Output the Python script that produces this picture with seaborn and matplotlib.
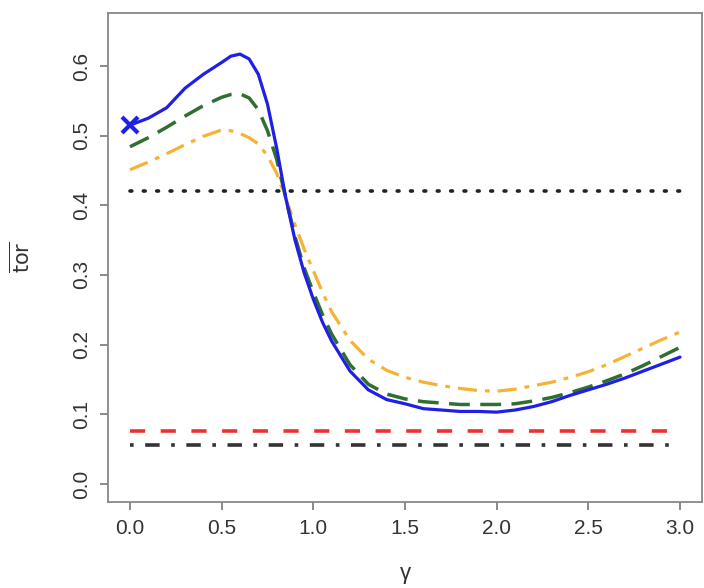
import numpy as np
import pandas as pd
import matplotlib
matplotlib.use("Agg")
import matplotlib.pyplot as plt
import seaborn as sns

# gamma grid and the three mean-tor curves
gamma = [0.0, 0.1, 0.2, 0.3, 0.4, 0.5, 0.55, 0.6, 0.65, 0.7, 0.75, 0.8, 0.85,
         0.9, 0.95, 1.0, 1.05, 1.1, 1.2, 1.3, 1.4, 1.5, 1.6, 1.7, 1.8, 1.9,
         2.0, 2.1, 2.2, 2.3, 2.4, 2.5, 2.6, 2.7, 2.8, 2.9, 3.0]
tor_blue = [0.515, 0.525, 0.540, 0.568, 0.588, 0.605, 0.614, 0.617, 0.610,
            0.588, 0.545, 0.482, 0.410, 0.350, 0.303, 0.265, 0.232, 0.205,
            0.162, 0.135, 0.121, 0.115, 0.108, 0.106, 0.104, 0.104, 0.103,
            0.106, 0.111, 0.118, 0.127, 0.135, 0.143, 0.152, 0.162, 0.172,
            0.182]
tor_green = [0.484, 0.497, 0.512, 0.528, 0.543, 0.555, 0.559, 0.560, 0.554,
             0.537, 0.507, 0.466, 0.410, 0.355, 0.310, 0.275, 0.243, 0.215,
             0.171, 0.143, 0.129, 0.122, 0.118, 0.116, 0.114, 0.114, 0.114,
             0.115, 0.119, 0.124, 0.131, 0.139, 0.148, 0.158, 0.170, 0.183,
             0.196]
tor_orange = [0.451, 0.462, 0.474, 0.487, 0.499, 0.508, 0.507, 0.503, 0.497,
              0.488, 0.471, 0.446, 0.410, 0.372, 0.337, 0.306, 0.275, 0.247,
              0.206, 0.179, 0.163, 0.153, 0.146, 0.141, 0.137, 0.134, 0.133,
              0.136, 0.141, 0.146, 0.153, 0.161, 0.171, 0.183, 0.195, 0.207,
              0.218]

# reference levels
level_dotted = 0.42
level_red = 0.076
level_dashdot = 0.056

df = pd.DataFrame({"gamma": gamma, "blue": tor_blue,
                   "green": tor_green, "orange": tor_orange})

sns.set_style("white")
plt.rcParams["font.family"] = ["Liberation Sans", "DejaVu Sans"]

fig = plt.figure(figsize=(7.04, 5.88), dpi=100)
ax = fig.add_axes([108 / 704, 1 - 502 / 588, (702 - 108) / 704, (502 - 13) / 588])

sns.lineplot(data=df, x="gamma", y="orange", ax=ax, color="#f5b335",
             linewidth=2.3, dashes=False)
ax.lines[-1].set_dashes([6, 2.5, 1.5, 2.5])
sns.lineplot(data=df, x="gamma", y="green", ax=ax, color="#2f6f2f",
             linewidth=2.5, dashes=False)
ax.lines[-1].set_dashes([6, 3])
sns.lineplot(data=df, x="gamma", y="blue", ax=ax, color="#1f1fe6",
             linewidth=2.3, dashes=False)

ax.plot([gamma[0]], [tor_blue[0]], marker="x", color="#1f1fe6",
        markersize=11, markeredgewidth=3, linestyle="none")

xmin, xmax = gamma[0], gamma[-1]
ax.hlines(level_dotted, xmin, xmax, colors="#222222", linewidth=2.6,
          linestyles=(0, (0.5, 3.2)))
ax.collections[-1].set_capstyle("round")
ax.hlines(level_red, xmin, xmax, colors="#f03030", linewidth=2.6,
          linestyles=(0, (4.2, 4.3)))
ax.hlines(level_dashdot, xmin, xmax, colors="#333333", linewidth=2.6,
          linestyles=(0, (1, 3.2, 4, 3.2)))

ax.set_xlim(-0.12, 3.12)
ax.set_ylim(-0.026, 0.676)
ax.set_xticks([0.0, 0.5, 1.0, 1.5, 2.0, 2.5, 3.0])
ax.set_yticks([0.0, 0.1, 0.2, 0.3, 0.4, 0.5, 0.6])
ax.set_xticklabels(["0.0", "0.5", "1.0", "1.5", "2.0", "2.5", "3.0"])
ax.set_yticklabels(["0.0", "0.1", "0.2", "0.3", "0.4", "0.5", "0.6"],
                   rotation=90, va="center")

for s in ax.spines.values():
    s.set_visible(True)
    s.set_color("#888888")
    s.set_linewidth(1.3)

ax.tick_params(axis="both", which="both", direction="out", length=6,
               width=1.2, color="#777777", labelsize=15, labelcolor="#333333",
               bottom=True, left=True, top=False, right=False, pad=6)

ax.set_xlabel("γ", fontsize=16, color="#333333")
ax.xaxis.set_label_coords(0.5, -0.125)
ax.set_ylabel(r"$\overline{\mathrm{tor}}$", fontsize=15, color="#333333")
ax.yaxis.set_label_coords(-0.125, 0.5)

fig.savefig("out.png", dpi=100)
